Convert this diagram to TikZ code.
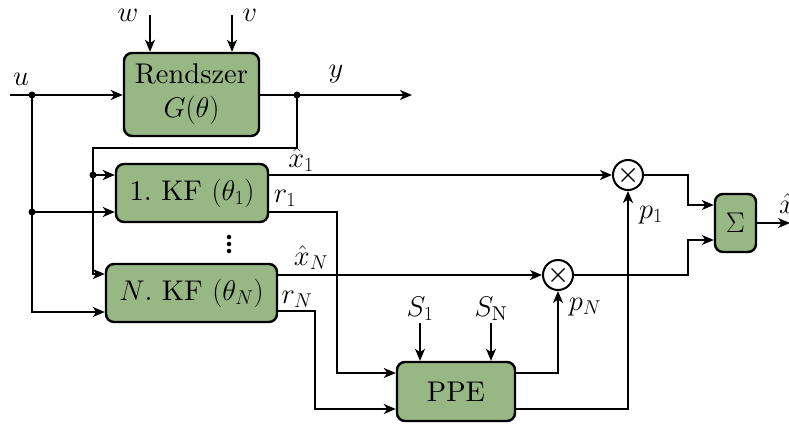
\RequirePackage{fix-cm}
\documentclass[tikz,border=0pt]{standalone}
\usepackage{amsmath}
\usepackage{fontspec}
\setmainfont{lmroman10-regular.otf}
\usetikzlibrary{arrows.meta,calc}
\definecolor{boxgreen}{RGB}{151,183,133}
\begin{document}
\begin{tikzpicture}[x=1pt,y=-1pt,
  font=\fontsize{28.5}{34}\selectfont,
  line width=2pt,
  >={Stealth[length=12pt,width=10pt,inset=3.5pt]},
  blk/.style={draw,line width=2.4pt,fill=boxgreen,rounded corners=8pt,inner sep=0pt,align=center},
  mult/.style={draw,line width=2pt,circle,minimum size=30pt,inner sep=0pt,fill=white},
  dot/.style={circle,fill=black,inner sep=0pt,minimum size=7pt},
  vdot/.style={circle,fill=black,inner sep=0pt,minimum size=4.5pt},
  lbl/.style={inner sep=0pt,anchor=base}]
\useasboundingbox (0,0) rectangle (789,423);

% blocks
\node[blk,minimum width=135pt,minimum height=83pt] (sys) at (191.5,94.5) {Rendszer\\$G(\theta)$};
\node[blk,minimum width=152pt,minimum height=58pt] (kf1) at (192,193) {1.\ KF $(\theta_1)$};
\node[blk,minimum width=171pt,minimum height=58pt] (kfn) at (191.5,293) {$N$.\ KF $(\theta_N)$};
\node[blk,minimum width=118pt,minimum height=59pt] (ppe) at (456,391.5) {PPE};
\node[blk,minimum width=41pt,minimum height=58pt] (sum) at (735.5,223) {$\Sigma$};
\node[mult] (m1) at (628,175) {};
\node[mult] (mn) at (558,275) {};
\foreach \m in {m1,mn}{
  \draw[line width=1.2pt] ($(\m)+(-6.5,-6.5)$) -- ($(\m)+(6.5,6.5)$);
  \draw[line width=1.2pt] ($(\m)+(-6.5,6.5)$) -- ($(\m)+(6.5,-6.5)$);
}

% coordinates
\coordinate (uin) at (10,95);
\coordinate (win) at (150,15);
\coordinate (vin) at (232,15);
\coordinate (yout) at (412,95);
\coordinate (s1in) at (420,323);
\coordinate (snin) at (491,323);
\coordinate (xout) at (790,223);
\node[dot] (j1) at (32,95) {};
\node[dot] (j2) at (297,95) {};
\node[dot] (j3) at (93,175) {};
\node[dot] (j4) at (32,212) {};

% system
\draw[->] (uin) -- (sys.west |- uin);
\draw[->] (win) -- (win |- sys.north);
\draw[->] (vin) -- (vin |- sys.north);
\draw[->] (sys.east |- yout) -- (yout);

% feedback of y
\draw[->] (j2.center) -- (297,148) -- (93,148) -- (93,274) -- (kfn.west |- 0,274);
\draw[->] (j3.center) -- (kf1.west |- j3);
% u
\draw[->] (j1.center) -- (32,312) -- (kfn.west |- 0,312);
\draw[->] (j4.center) -- (kf1.west |- j4);

% KF outputs
\draw[->] (kf1.east |- m1) -- (m1.west);
\draw[->] (kf1.east |- 0,212) -- (337,212) -- (337,373) -- (ppe.west |- 0,373);
\draw[->] (kfn.east |- mn) -- (mn.west);
\draw[->] (kfn.east |- 0,311) -- (315,311) -- (315,409) -- (ppe.west |- 0,409);

% PPE
\draw[->] (s1in) -- (s1in |- ppe.north);
\draw[->] (snin) -- (snin |- ppe.north);
\draw[->] (ppe.east |- 0,373) -- (mn |- 0,373) -- (mn.south);
\draw[->] (ppe.east |- 0,409) -- (m1 |- 0,409) -- (m1.south);

% multipliers to sum
\draw[->] (m1.east) -- (688,175) -- (688,205) -- (sum.west |- 0,205);
\draw[->] (mn.east) -- (688,275) -- (688,240) -- (sum.west |- 0,240);
\draw[->] (sum.east) -- (xout);

% labels
\node[lbl] (lu) at (21,85) {$u$};
\node[lbl] (lw) at (128,21) {$w$};
\node[lbl] (lv) at (250,21) {$v$};
\node[lbl] (ly) at (336,77) {$y$};
\node[lbl] (lx1) at (301,167) {$\hat{x}_1$};
\node[lbl] (lr1) at (285,202) {$r_1$};
\node[lbl] (lxn) at (311,265) {$\hat{x}_N$};
\node[lbl] (lrn) at (297,303) {$r_N$};
\node[lbl] (ls1) at (420,316) {$S_1$};
\node[lbl] (lsn) at (491,316) {$S_{\mathrm{N}}$};
\node[lbl] (lpn) at (585,310) {$p_N$};
\node[lbl] (lp1) at (651,218) {$p_1$};
\node[lbl,anchor=base west] (lxh) at (778,213) {$\hat{x}$};
\node[vdot] (d1) at (229,237) {};
\node[vdot] (d2) at (229,244) {};
\node[vdot] (d3) at (229,251) {};
\end{tikzpicture}
\end{document}
